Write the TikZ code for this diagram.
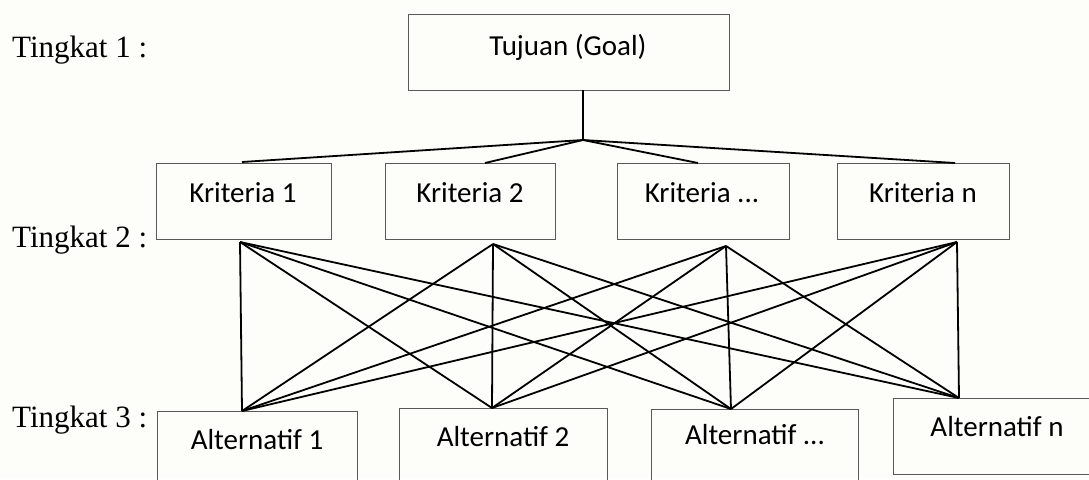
\documentclass[tikz,border=0pt]{standalone}
\usepackage{fontspec}
\setmainfont{Liberation Serif}
\newfontfamily\boxfont{Carlito}
\definecolor{bgc}{rgb}{0.992,0.995,0.975}
\definecolor{edgec}{rgb}{0.35,0.35,0.35}
\tikzset{
  boxnode/.style={draw=edgec, line width=1.1pt, anchor=north west, inner sep=0pt},
  boxtext/.style={font=\boxfont\fontsize{29}{34}\selectfont, inner sep=0pt, anchor=center},
  leveltext/.style={font=\fontsize{31}{36}\selectfont, inner sep=0pt, anchor=base west},
  link/.style={line width=1.8pt, black},
}
\begin{document}
\begin{tikzpicture}[x=1pt,y=-1pt]
\useasboundingbox (0,0) rectangle (1089,479);
\fill[bgc] (0,0) rectangle (1089,479);
\clip (0,0) rectangle (1089,479);

% level labels
\node[leveltext] (t1) at (12,57) {Tingkat 1 :};
\node[leveltext] (t2) at (12,247) {Tingkat 2 :};
\node[leveltext] (t3) at (12,427) {Tingkat 3 :};

% goal
\node[boxnode, minimum width=321pt, minimum height=76pt] (goal) at (408,14) {};
\node[boxtext] (goalt) at (568,47) {Tujuan (Goal)};

% criteria
\node[boxnode, minimum width=175pt, minimum height=76pt] (k1) at (156,163) {};
\node[boxnode, minimum width=170pt, minimum height=76pt] (k2) at (385,163) {};
\node[boxnode, minimum width=172pt, minimum height=76pt] (k3) at (617,163) {};
\node[boxnode, minimum width=172pt, minimum height=76pt] (k4) at (837,163) {};
\node[boxtext] (k1t) at (243,193) {Kriteria 1};
\node[boxtext] (k2t) at (470,193) {Kriteria 2};
\node[boxtext] (k3t) at (702,193) {Kriteria ...};
\node[boxtext] (k4t) at (923,193) {Kriteria n};

% alternatives
\node[boxnode, minimum width=200pt, minimum height=90pt] (a1) at (157,411) {};
\node[boxnode, minimum width=208pt, minimum height=90pt] (a2) at (399,408) {};
\node[boxnode, minimum width=207pt, minimum height=90pt] (a3) at (651,409) {};
\node[boxnode, minimum width=210pt, minimum height=76pt] (a4) at (893,398) {};
\node[boxtext] (a1t) at (257,440) {Alternatif 1};
\node[boxtext] (a2t) at (503,437) {Alternatif 2};
\node[boxtext] (a3t) at (755,435) {Alternatif ...};
\node[boxtext] (a4t) at (997,427) {Alternatif n};

% attachment points
\coordinate (gb) at (583,90);
\coordinate (j) at (583,140);
\coordinate (k1top) at (242,162);
\coordinate (k2top) at (485,163);
\coordinate (k3top) at (698,163);
\coordinate (k4top) at (955,163);
\coordinate (k1b) at (240,242);
\coordinate (k2b) at (493,244);
\coordinate (k3b) at (726,246);
\coordinate (k4b) at (957,242);
\coordinate (a1b) at (242,411);
\coordinate (a2b) at (492,408);
\coordinate (a3b) at (731,409);
\coordinate (a4b) at (959,398);

% goal to criteria
\draw[link] (gb) -- (j);
\foreach \k in {k1top,k2top,k3top,k4top} \draw[link] (j) -- (\k);

% criteria to alternatives
\foreach \k in {k1b,k2b,k3b,k4b}
  \foreach \a in {a1b,a2b,a3b,a4b}
    \draw[link] (\k) -- (\a);
\end{tikzpicture}
\end{document}
